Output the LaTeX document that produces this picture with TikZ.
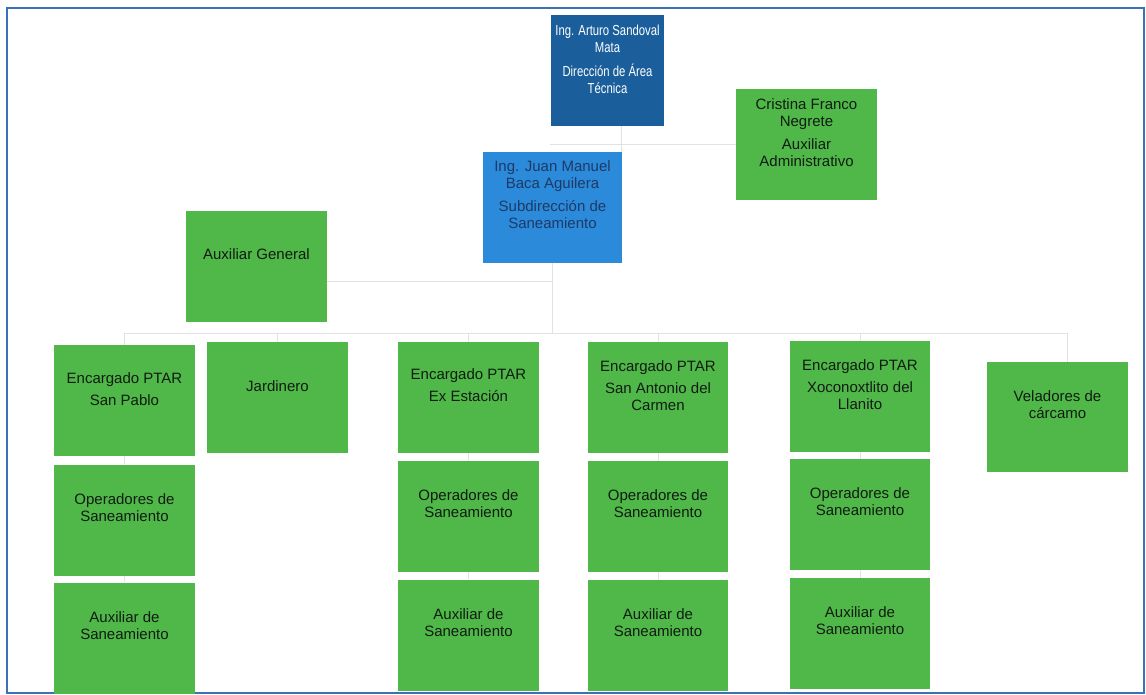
\documentclass[tikz,border=0pt]{standalone}
\usepackage{fontspec}
\setmainfont{Liberation Sans}
\newfontfamily\condfont[FakeStretch=0.78]{Liberation Sans}
\definecolor{boxgreen}{HTML}{50B848}
\definecolor{topblue}{HTML}{1B5E9C}
\definecolor{subblue}{HTML}{2B8ADA}
\definecolor{subtext}{HTML}{1E3A66}
\definecolor{greentext}{HTML}{101C12}
\definecolor{linegray}{HTML}{E2E2E2}
\definecolor{framblue}{HTML}{3A72B8}
\begin{document}
\begin{tikzpicture}[x=1pt,y=-1pt,
  unit/.style={draw=none, minimum width=141pt, minimum height=111pt, inner sep=0pt},
  greenbox/.style={unit, fill=boxgreen},
  txt/.style={align=center, inner sep=0pt, text=greentext,
    font=\fontsize{15}{17}\selectfont},
  conn/.style={draw=linegray, line width=0.9pt},
  frame/.style={draw=framblue, line width=1.4pt}
]
% page and frame
\fill[white] (0,0) rectangle (1146,695);
\useasboundingbox (0,0) rectangle (1146,695);
\draw[frame] (7,8) rectangle (1144,693);

% connector junctions
\coordinate (adm) at (550,144.5);
\coordinate (busL) at (124.5,333);
\coordinate (busR) at (1067,333);
\coordinate (auxj) at (552.5,281);

% upper levels
\node[unit, minimum width=113pt, fill=topblue,
  label={[txt, text=white, yshift=11pt, font=\condfont\fontsize{14.5}{17}\selectfont]center:Ing. Arturo Sandoval\\Mata\\[7pt]Dirección de Área\\Técnica}]
  (arturo) at (607.5,70.5) {};
\node[greenbox,
  label={[txt, yshift=11.5pt]center:Cristina Franco\\Negrete\\[6pt]Auxiliar\\Administrativo}]
  (cristina) at (806.5,144.5) {};
\node[unit, minimum width=139pt, fill=subblue,
  label={[txt, text=subtext, yshift=12.5pt]center:Ing. Juan Manuel\\Baca Aguilera\\[6pt]Subdirección de\\Saneamiento}]
  (juan) at (552.5,207.5) {};
\node[greenbox, label={[txt, yshift=12.5pt]center:Auxiliar General}]
  (auxg) at (256.5,266.5) {};

% plant heads and staff
\node[greenbox, label={[txt, yshift=11.5pt]center:Encargado PTAR\\[5pt]San Pablo}] (sp1) at (124.5,400.5) {};
\node[greenbox, label={[txt, yshift=12pt]center:Operadores de\\Saneamiento}] (sp2) at (124.5,520) {};
\node[greenbox, label={[txt, yshift=12pt]center:Auxiliar de\\Saneamiento}] (sp3) at (124.5,638) {};

\node[greenbox, label={[txt, yshift=11.5pt]center:Jardinero}] (jard) at (277.5,397.5) {};

\node[greenbox, label={[txt, yshift=12pt]center:Encargado PTAR\\[5pt]Ex Estación}] (ex1) at (468.5,397.5) {};
\node[greenbox, label={[txt, yshift=12.5pt]center:Operadores de\\Saneamiento}] (ex2) at (468.5,516.5) {};
\node[greenbox, label={[txt, yshift=12.5pt]center:Auxiliar de\\Saneamiento}] (ex3) at (468.5,635) {};

\node[greenbox, minimum width=140pt, label={[txt, yshift=12pt]center:Encargado PTAR\\[5pt]San Antonio del\\Carmen}] (sa1) at (658,397.5) {};
\node[greenbox, minimum width=140pt, label={[txt, yshift=12.5pt]center:Operadores de\\Saneamiento}] (sa2) at (658,516.5) {};
\node[greenbox, minimum width=140pt, label={[txt, yshift=12.5pt]center:Auxiliar de\\Saneamiento}] (sa3) at (658,635.5) {};

\node[greenbox, minimum width=140pt, label={[txt, yshift=12pt]center:Encargado PTAR\\[5pt]Xoconoxtlito del\\Llanito}] (xo1) at (860,396.5) {};
\node[greenbox, minimum width=140pt, label={[txt, yshift=12.5pt]center:Operadores de\\Saneamiento}] (xo2) at (860,514.5) {};
\node[greenbox, minimum width=140pt, label={[txt, yshift=12.5pt]center:Auxiliar de\\Saneamiento}] (xo3) at (860,633.5) {};

\node[greenbox, minimum height=110pt, label={[txt, yshift=12.5pt]center:Veladores de\\cárcamo}] (vel) at (1057.5,417) {};

% reporting lines
\draw[conn] ([xshift=14pt]arturo.south) -- ([xshift=14pt]arturo.south |- juan.north);
\draw[conn] (adm) -- (cristina.west);
\draw[conn] (juan.south) -- (juan.south |- busL);
\draw[conn] (auxj) -- (auxj -| auxg.east);
\draw[conn] (busL) -- (busR);
\draw[conn] (busR) -- (busR |- vel.north);
\foreach \n in {sp1,jard,ex1,sa1,xo1}
  \draw[conn] (\n.north |- busL) -- (\n.north);
\foreach \a/\b in {sp1/sp2,sp2/sp3,ex1/ex2,ex2/ex3,sa1/sa2,sa2/sa3,xo1/xo2,xo2/xo3}
  \draw[conn] (\a.south) -- (\b.north);
\end{tikzpicture}
\end{document}
